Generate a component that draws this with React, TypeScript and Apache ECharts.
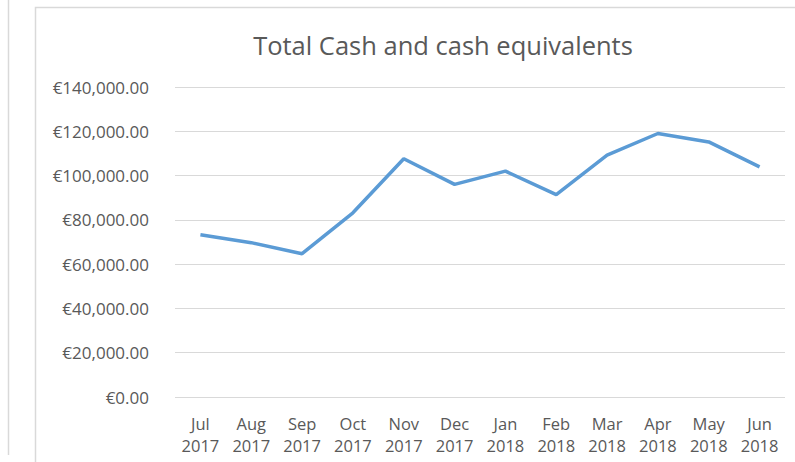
import React, { useEffect, useRef } from "react";
import * as echarts from "echarts";

const categories = ["Jul\n2017", "Aug\n2017", "Sep\n2017", "Oct\n2017", "Nov\n2017", "Dec\n2017", "Jan\n2018", "Feb\n2018", "Mar\n2018", "Apr\n2018", "May\n2018", "Jun\n2018"];
const cashValues = [73300, 69700, 64700, 83200, 107600, 96000, 102000, 91400, 109200, 119000, 115200, 103900];
const chartTitle = "Total Cash and cash equivalents";

const FONT = "'Open Sans', 'Noto Sans', sans-serif";
const TEXT = "#595959";

export default function App() {
  const ref = useRef<HTMLDivElement>(null);
  useEffect(() => {
    if (!ref.current) return;
    const chart = echarts.init(ref.current, undefined, { renderer: "svg" });
    chart.setOption({
      animation: false,
      backgroundColor: "#ffffff",
      graphic: [
        { type: "rect", shape: { x: 35.5, y: 7.5, width: 800, height: 500 }, style: { fill: "none", stroke: "#d9d9d9", lineWidth: 1.5 }, silent: true },
        { type: "line", shape: { x1: 8.5, y1: 0, x2: 8.5, y2: 455 }, style: { stroke: "#d9d9d9", lineWidth: 1.5 }, silent: true },
        { type: "text", x: 443, y: 45, style: { text: chartTitle, fontFamily: FONT, fontSize: 25.5, fill: TEXT, textAlign: "center", textVerticalAlign: "middle" } },
      ],
      grid: { left: 175, right: 10, top: 87, bottom: 65, containLabel: false },
      xAxis: {
        type: "category",
        data: categories,
        boundaryGap: true,
        axisLine: { show: false },
        axisTick: { show: false },
        axisLabel: { color: TEXT, fontFamily: FONT, fontSize: 16.5, lineHeight: 22, margin: 15, interval: 0 },
      },
      yAxis: {
        type: "value",
        min: 0,
        max: 140000,
        interval: 20000,
        axisLine: { show: false },
        axisTick: { show: false },
        splitLine: { lineStyle: { color: "#d9d9d9", width: 1 } },
        axisLabel: {
          color: TEXT,
          fontFamily: FONT,
          fontSize: 17,
          margin: 26,
          formatter: (v: number) => "€" + v.toLocaleString("en-US", { minimumFractionDigits: 2, maximumFractionDigits: 2 }),
        },
      },
      series: [
        {
          type: "line",
          data: cashValues,
          symbol: "none",
          lineStyle: { color: "#5b9bd5", width: 3.5 },
          itemStyle: { color: "#5b9bd5" },
        },
      ],
    });
    return () => chart.dispose();
  }, []);
  return <div ref={ref} style={{ position: "fixed", left: 0, top: 0, width: 795, height: 462 }} />;
}
